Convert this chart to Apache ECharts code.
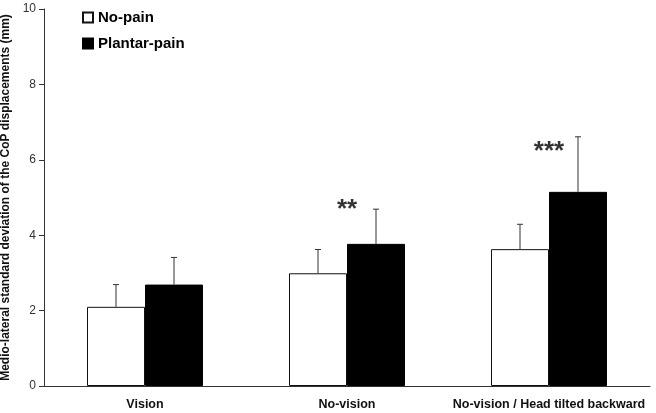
<!DOCTYPE html>
<html>
<head>
<meta charset="utf-8">
<script src="https://cdn.jsdelivr.net/npm/echarts@6/dist/echarts.min.js"></script>
<style>
  html, body { margin: 0; padding: 0; background: #fff; }
  #chart { width: 656px; height: 413px; }
</style>
</head>
<body>
<div id="chart"></div>
<script>
// data
const categories = ['Vision', 'No-vision', 'No-vision / Head tilted backward'];
const noPain = [2.10, 2.99, 3.63];
const noPainSD = [0.59, 0.63, 0.66];
const plantarPain = [2.69, 3.77, 5.15];
const plantarPainSD = [0.72, 0.92, 1.46];
// significance marks: [category index, y position, text]
const sigMarks = [[1, 4.68, '**'], [2, 6.22, '***']];

const font = 'Arial, "Liberation Sans", sans-serif';
const BAR_W = 58;

function errorSeries(name, means, sds, offset) {
  return {
    name: name + ' SD',
    type: 'custom',
    silent: true,
    z: 3,
    data: means.map((m, i) => [i, m, m + sds[i]]),
    renderItem: (params, api) => {
      const lo = api.coord([api.value(0), api.value(1)]);
      const hi = api.coord([api.value(0), api.value(2)]);
      const x = lo[0] + offset;
      const st = { stroke: '#333', lineWidth: 1 };
      return {
        type: 'group',
        children: [
          { type: 'line', shape: { x1: x, y1: lo[1], x2: x, y2: hi[1] }, style: st },
          { type: 'line', shape: { x1: x - 3, y1: hi[1], x2: x + 3, y2: hi[1] }, style: st }
        ]
      };
    }
  };
}

const chart = echarts.init(document.getElementById('chart'));
chart.setOption({
  animation: false,
  backgroundColor: '#fff',
  grid: { left: 44, right: 6, top: 9, bottom: 27, outerBoundsMode: 'none', containLabel: false },
  legend: {
    orient: 'vertical',
    left: 77,
    top: 5,
    itemWidth: 10,
    itemHeight: 10,
    itemGap: 11,
    icon: 'rect',
    data: ['No-pain', 'Plantar-pain'],
    textStyle: { fontFamily: font, fontWeight: 'bold', fontSize: 15, color: '#000' }
  },
  xAxis: {
    type: 'category',
    data: categories,
    axisLine: { lineStyle: { color: '#333', width: 1 } },
    axisTick: { show: false },
    axisLabel: { interval: 0, fontFamily: font, fontWeight: 'bold', fontSize: 12.5, color: '#111', margin: 12 }
  },
  yAxis: {
    type: 'value',
    min: 0,
    max: 10,
    interval: 2,
    name: 'Medio-lateral standard deviation of the CoP displacements (mm)',
    nameLocation: 'middle',
    nameGap: 27,
    nameTextStyle: { fontFamily: font, fontWeight: 'bold', fontSize: 12, color: '#111' },
    axisLine: { show: true, lineStyle: { color: '#333', width: 1 } },
    axisTick: { show: true, length: 5, lineStyle: { color: '#333' } },
    axisLabel: { fontFamily: font, fontSize: 12, color: '#333', margin: 8 },
    splitLine: { show: false }
  },
  series: [
    {
      name: 'No-pain',
      type: 'bar',
      data: noPain,
      barWidth: BAR_W,
      barGap: '0%',
      itemStyle: { color: '#fff', borderColor: '#111', borderWidth: 1 }
    },
    {
      name: 'Plantar-pain',
      type: 'bar',
      data: plantarPain,
      barWidth: BAR_W,
      barGap: '0%',
      itemStyle: { color: '#000', borderColor: '#000', borderWidth: 1 }
    },
    errorSeries('No-pain', noPain, noPainSD, -BAR_W / 2),
    errorSeries('Plantar-pain', plantarPain, plantarPainSD, BAR_W / 2),
    {
      name: 'sig',
      type: 'scatter',
      symbolSize: 0,
      silent: true,
      data: sigMarks.map(s => ({ value: [s[0], s[1]], text: s[2] })),
      label: {
        show: true,
        position: 'inside',
        formatter: p => p.data.text,
        fontFamily: font,
        fontWeight: 'bold',
        fontSize: 26,
        color: '#000'
      }
    }
  ]
});
</script>
</body>
</html>
